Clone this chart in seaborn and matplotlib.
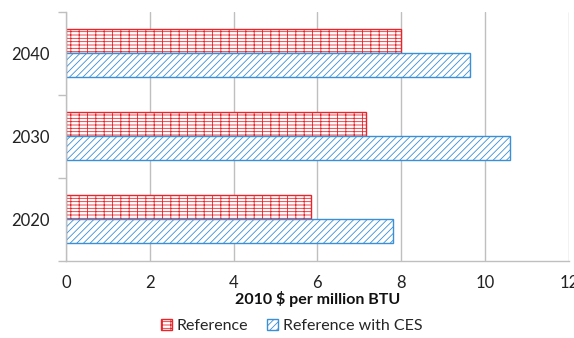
import matplotlib
matplotlib.use("Agg")
import matplotlib.pyplot as plt
from matplotlib.patches import Patch
from matplotlib.ticker import FixedLocator, MultipleLocator
import pandas as pd
import seaborn as sns

# Natural gas price projections (2010 $ per million BTU)
years = ["2040", "2030", "2020"]
series = ["Reference", "Reference with CES"]
reference = [8.0, 7.15, 5.85]
reference_ces = [9.65, 10.6, 7.8]

colors = {"Reference": "#E8252B", "Reference with CES": "#3A8FD6"}
hatches = {"Reference": "---++", "Reference with CES": "/////"}

df = pd.DataFrame({
    "year": years * 2,
    "series": [series[0]] * len(years) + [series[1]] * len(years),
    "price": reference + reference_ces,
})

sns.set_theme(style="white")
plt.rcParams["font.family"] = ["Lato", "DejaVu Sans"]
plt.rcParams["hatch.linewidth"] = 0.6

fig = plt.figure(figsize=(5.74, 3.38), dpi=100)
ax = fig.add_axes([0.115, 0.228, 0.876, 0.737])

sns.barplot(data=df, x="price", y="year", hue="series", order=years,
            hue_order=series, orient="h", width=0.58, gap=0,
            palette=["white", "white"], saturation=1, ax=ax, legend=False)

for container, name in zip(ax.containers, series):
    for bar in container:
        bar.set_facecolor("white")
        bar.set_edgecolor(colors[name])
        bar.set_hatch(hatches[name])
        bar.set_linewidth(1.0)

ax.set_xlim(0, 12)
ax.set_ylim(2.5, -0.5)
ax.xaxis.set_major_locator(MultipleLocator(2))
ax.grid(axis="x", color="#BFBFBF", linewidth=1.0)
ax.set_axisbelow(True)

for side in ["top", "right"]:
    ax.spines[side].set_visible(False)
for side in ["left", "bottom"]:
    ax.spines[side].set_color("#BFBFBF")
    ax.spines[side].set_linewidth(1.0)

ax.tick_params(axis="x", length=0, labelsize=12, pad=10, colors="#222222")
ax.tick_params(axis="y", which="major", length=0, labelsize=12, pad=12,
               colors="#222222")
ax.yaxis.set_minor_locator(FixedLocator([-0.5, 0.5, 1.5, 2.5]))
ax.tick_params(axis="y", which="minor", length=6, width=1.0, color="#BFBFBF",
               left=True)

ax.set_xlabel("2010 $ per million BTU", fontsize=11.5, fontweight="bold",
              labelpad=0, color="#111111")
ax.set_ylabel("")

handles = [Patch(facecolor="white", edgecolor=colors[s], hatch=hatches[s],
                 linewidth=1.0, label=s) for s in series]
fig.legend(handles=handles, loc="center", bbox_to_anchor=(0.508, 0.036),
           ncol=2, frameon=False, fontsize=11.5, handlelength=0.7,
           handleheight=0.7, handletextpad=0.3, columnspacing=1.2)

fig.savefig("out.png", dpi=100)
